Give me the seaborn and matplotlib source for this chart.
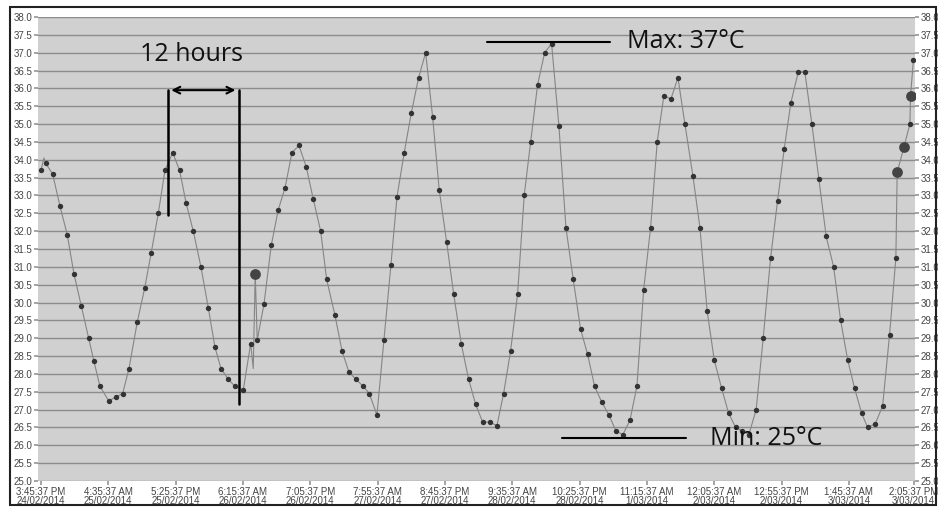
import pandas as pd
import matplotlib.pyplot as plt
import seaborn as sns
from matplotlib.ticker import MultipleLocator, FormatStrFormatter


# logger readings: hours since first reading, temperature (°C), marker type
# 's' = normal point, 'b' = big event point, '-' = line only
hours = [0.0, 0.57, 0.9, 2.23, 3.62, 5.01, 6.29, 7.68, 9.09, 10.1,
         11.24, 12.9, 14.29, 15.57, 16.77, 18.35, 19.76, 21.02, 22.36, 23.63,
         25.1, 26.43, 27.64, 29.03, 30.49, 31.89, 33.16, 34.31, 35.7, 36.97,
         38.56, 39.97, 40.46, 40.84, 41.22, 42.5, 43.89, 45.23, 46.5, 47.84,
         49.17, 50.56, 51.9, 53.31, 54.45, 56.03, 57.37, 58.7, 60.03, 61.43,
         62.57, 64.04, 65.37, 66.7, 67.85, 69.24, 70.57, 71.98, 73.32, 74.65,
         75.91, 77.32, 78.65, 80.1, 81.51, 82.85, 84.18, 85.52, 86.91, 88.18,
         89.52, 90.85, 92.11, 93.33, 94.66, 96.0, 97.33, 98.72, 100.06, 101.45,
         102.86, 104.19, 105.53, 106.92, 108.25, 109.59, 110.92, 112.26, 113.59, 114.87,
         116.2, 117.46, 118.74, 120.07, 121.41, 122.74, 124.26, 125.6, 126.99, 128.32,
         129.73, 131.07, 132.4, 133.66, 134.93, 136.32, 137.66, 139.07, 140.4, 141.66,
         142.94, 144.33, 145.61, 146.94, 148.28, 149.67, 151.08, 152.42, 153.75, 155.08,
         156.42, 157.56, 159.01, 160.42, 161.75, 162.95, 163.2, 164.48, 165.62, 165.75,
         166.3]
temps = [33.7, 34.05, 33.9, 33.6, 32.7, 31.9, 30.8, 29.9, 29.0, 28.35,
         27.65, 27.25, 27.35, 27.45, 28.15, 29.45, 30.4, 31.4, 32.5, 33.7,
         34.2, 33.7, 32.8, 32.0, 31.0, 29.85, 28.75, 28.15, 27.85, 27.65,
         27.55, 28.85, 28.15, 30.8, 28.95, 29.95, 31.6, 32.6, 33.2, 34.2,
         34.4, 33.8, 32.9, 32.0, 30.65, 29.65, 28.65, 28.05, 27.85, 27.65,
         27.45, 26.85, 28.95, 31.05, 32.95, 34.2, 35.3, 36.3, 37.0, 35.2,
         33.15, 31.7, 30.25, 28.85, 27.85, 27.15, 26.65, 26.65, 26.55, 27.45,
         28.65, 30.25, 33.0, 34.5, 36.1, 37.0, 37.25, 34.95, 32.1, 30.65,
         29.25, 28.55, 27.65, 27.2, 26.85, 26.4, 26.3, 26.7, 27.65, 30.35,
         32.1, 34.5, 35.8, 35.7, 36.3, 35.0, 33.55, 32.1, 29.75, 28.4,
         27.6, 26.9, 26.5, 26.4, 26.3, 27.0, 29.0, 31.25, 32.85, 34.3,
         35.6, 36.45, 36.45, 35.0, 33.45, 31.85, 31.0, 29.5, 28.4, 27.6,
         26.9, 26.5, 26.6, 27.1, 29.1, 31.25, 33.65, 34.35, 35.0, 35.8,
         36.8]
kind = ['s', '-', 's', 's', 's', 's', 's', 's', 's', 's',
        's', 's', 's', 's', 's', 's', 's', 's', 's', 's',
        's', 's', 's', 's', 's', 's', 's', 's', 's', 's',
        's', 's', '-', 'b', 's', 's', 's', 's', 's', 's',
        's', 's', 's', 's', 's', 's', 's', 's', 's', 's',
        's', 's', 's', 's', 's', 's', 's', 's', 's', 's',
        's', 's', 's', 's', 's', 's', 's', 's', 's', 's',
        's', 's', 's', 's', 's', 's', 's', 's', 's', 's',
        's', 's', 's', 's', 's', 's', 's', 's', 's', 's',
        's', 's', 's', 's', 's', 's', 's', 's', 's', 's',
        's', 's', 's', 's', 's', 's', 's', 's', 's', 's',
        's', 's', 's', 's', 's', 's', 's', 's', 's', 's',
        's', 's', 's', 's', 's', 's', 'b', 'b', 's', 'b',
        's']

tick_labels = ['3:45:37 PM\n24/02/2014', '4:35:37 AM\n25/02/2014', '5:25:37 PM\n25/02/2014',
               '6:15:37 AM\n26/02/2014', '7:05:37 PM\n26/02/2014', '7:55:37 AM\n27/02/2014',
               '8:45:37 PM\n27/02/2014', '9:35:37 AM\n28/02/2014', '10:25:37 PM\n28/02/2014',
               '11:15:37 AM\n1/03/2014', '12:05:37 AM\n2/03/2014', '12:55:37 PM\n2/03/2014',
               '1:45:37 AM\n3/03/2014', '2:05:37 PM\n3/03/2014']

sns.set_theme(style='white')
plt.rcParams['font.family'] = ['Liberation Sans', 'DejaVu Sans']

df = pd.DataFrame({'hours': hours, 'temp': temps, 'kind': kind})

tick_times = pd.to_datetime([t.replace('\n', ' ') for t in tick_labels], format='%I:%M:%S %p %d/%m/%Y')
tick_hours = (tick_times - tick_times[0]).total_seconds() / 3600

fig = plt.figure(figsize=(9.38, 5.07), dpi=100)
ax = fig.add_axes([0.0405, 0.0513, 0.935, 0.9152])
ax.set_facecolor('#d0d0d0')

sns.lineplot(data=df, x='hours', y='temp', color='#858585', linewidth=0.8,
             sort=False, estimator=None, ax=ax, zorder=3)
sns.scatterplot(data=df[df['kind'] == 's'], x='hours', y='temp', color='#333333',
                s=15, linewidth=0, ax=ax, zorder=4)
sns.scatterplot(data=df[df['kind'] == 'b'], x='hours', y='temp', color='#444444',
                s=60, linewidth=0, ax=ax, zorder=4)

ax.set_xlim(-0.57, 166.6)
ax.set_ylim(25, 38)
ax.yaxis.set_major_locator(MultipleLocator(0.5))
ax.yaxis.set_major_formatter(FormatStrFormatter('%.1f'))
ax.yaxis.grid(True, color='#8c8c8c', linewidth=1.0)
ax.set_axisbelow(True)
ax.set_xticks(tick_hours)
ax.set_xticklabels(tick_labels, fontsize=7, linespacing=0.95, color='#444444')
ax.tick_params(axis='y', left=True, right=True, labelleft=True, labelright=True,
               labelsize=7, labelcolor='#444444', length=3, pad=1, color='#999999')
ax.tick_params(axis='x', bottom=True, length=3, pad=1, color='#999999')
ax.set_xlabel('')
ax.set_ylabel('')
for s in ax.spines.values():
    s.set_visible(False)

# annotations
ax.text(28.6, 36.95, '12 hours', ha='center', va='center', fontsize=18,
        family='Open Sans', color='#111111')
ax.plot([24.2, 24.2], [35.95, 32.45], color='black', linewidth=1.8, zorder=5)
ax.plot([37.7, 37.7], [35.95, 27.16], color='black', linewidth=1.8, zorder=5)
ax.annotate('', xy=(24.3, 35.95), xytext=(37.6, 35.95),
            arrowprops=dict(arrowstyle='<->', lw=1.5, color='black', mutation_scale=12), zorder=5)
ax.plot([85.0, 108.4], [37.3, 37.3], color='black', linewidth=1.5, zorder=5)
ax.text(111.7, 37.3, 'Max: 37°C', ha='left', va='center', fontsize=18,
        family='Open Sans', color='#111111')
ax.plot([99.3, 122.9], [26.2, 26.2], color='black', linewidth=1.5, zorder=5)
ax.text(127.5, 26.2, 'Min: 25°C', ha='left', va='center', fontsize=18,
        family='Open Sans', color='#111111', zorder=6)

fig.add_artist(plt.Rectangle((10 / 938, 2 / 507), 926 / 938, 498 / 507, transform=fig.transFigure,
                             fill=False, edgecolor='#222222', linewidth=1.5))

fig.savefig('out.png', dpi=100)
